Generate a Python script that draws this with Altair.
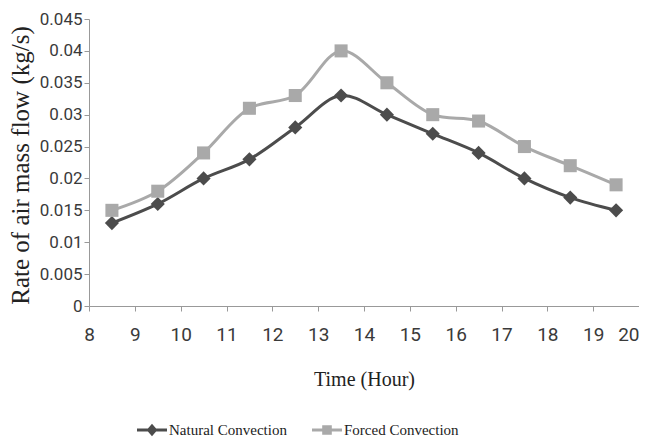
import altair as alt
import pandas as pd

hours = [8.5, 9.5, 10.5, 11.5, 12.5, 13.5, 14.5, 15.5, 16.5, 17.5, 18.5, 19.5]
natural = [0.013, 0.016, 0.020, 0.023, 0.028, 0.033, 0.030, 0.027, 0.024, 0.020, 0.017, 0.015]
forced = [0.015, 0.018, 0.024, 0.031, 0.033, 0.040, 0.035, 0.030, 0.029, 0.025, 0.022, 0.019]
series_names = ["Natural Convection", "Forced Convection"]
x_ticks = list(range(8, 21))
y_ticks = [0, 0.005, 0.01, 0.015, 0.02, 0.025, 0.03, 0.035, 0.04, 0.045]

rows = []
for name, vals in zip(series_names, [natural, forced]):
    for h, v in zip(hours, vals):
        rows.append({"hour": h, "rate": v, "series": name})
df = pd.DataFrame(rows)

colors = ["#4c4c4c", "#a9a9a9"]
color_scale = alt.Scale(domain=series_names, range=colors)

x_enc = alt.X("hour:Q",
              scale=alt.Scale(domain=[8, 20], nice=False, zero=False),
              axis=alt.Axis(values=x_ticks, format="d", title="Time (Hour)",
                            titleY=63, titleFont="Liberation Serif",
                            titleFontSize=20, titleFontWeight="normal",
                            labelFontSize=19, labelPadding=14, labelFlush=False,
                            labelAlign={"condition": {"test": "datum.value >= 20",
                                                      "value": "right"},
                                        "value": "center"}))
y_enc = alt.Y("rate:Q",
              scale=alt.Scale(domain=[0, 0.045], nice=False),
              axis=alt.Axis(values=y_ticks, format=".3~f",
                            title="Rate of air mass flow (kg/s)",
                            titleX=-56, titleY=146,
                            titleFont="Liberation Serif", titleFontSize=25,
                            titleFontWeight="normal",
                            labelFontSize=17, labelPadding=2, labelFlush=False))

base = alt.Chart(df)


def series_layers(name, color, shape, size):
    sub = base.transform_filter(alt.datum.series == name)
    line = sub.mark_line(interpolate="catmull-rom", strokeWidth=3, color=color).encode(
        x=x_enc, y=y_enc)
    pts = sub.mark_point(filled=True, opacity=1, shape=shape, size=size, color=color).encode(
        x=x_enc, y=y_enc)
    return [line, pts]


layers = series_layers(series_names[0], colors[0], "diamond", 200) + \
    series_layers(series_names[1], colors[1], "square", 170)

# legend glyphs: a short line with the series marker in its middle
legend_paths = [
    "M-1,-0.1L1,-0.1L1,0.1L-1,0.1ZM0,-0.42L0.36,0L0,0.42L-0.36,0Z",
    "M-1,-0.1L1,-0.1L1,0.1L-1,0.1ZM-0.32,-0.32L0.32,-0.32L0.32,0.32L-0.32,0.32Z",
]
legend_layer = base.transform_filter("false").mark_point(filled=True, opacity=1).encode(
    x=x_enc, y=y_enc,
    color=alt.Color("series:N", scale=color_scale, legend=alt.Legend(title=None)),
    shape=alt.Shape("series:N",
                    scale=alt.Scale(domain=series_names, range=legend_paths),
                    legend=alt.Legend(title=None)),
)

chart = alt.layer(*layers, legend_layer).properties(
    width=550, height=287,
    autosize=alt.AutoSizeParams(type="none"),
    padding={"left": 81, "top": 11, "right": 0, "bottom": 132},
).configure_view(stroke=None).configure_axis(
    grid=False,
    domainColor="#999999",
    tickColor="#999999",
    tickSize=5,
    labelFont="Roboto",
    labelColor="#3a3a3a",
    titleColor="#222222",
).configure_legend(
    orient="none",
    legendX=47,
    legendY=395,
    direction="horizontal",
    symbolSize=900,
    labelFont="Liberation Serif",
    labelFontSize=15,
    labelColor="#222222",
    labelOffset=1,
    columnPadding=24,
)

chart.save("out.html", embed_options={"renderer": "svg", "actions": False})
